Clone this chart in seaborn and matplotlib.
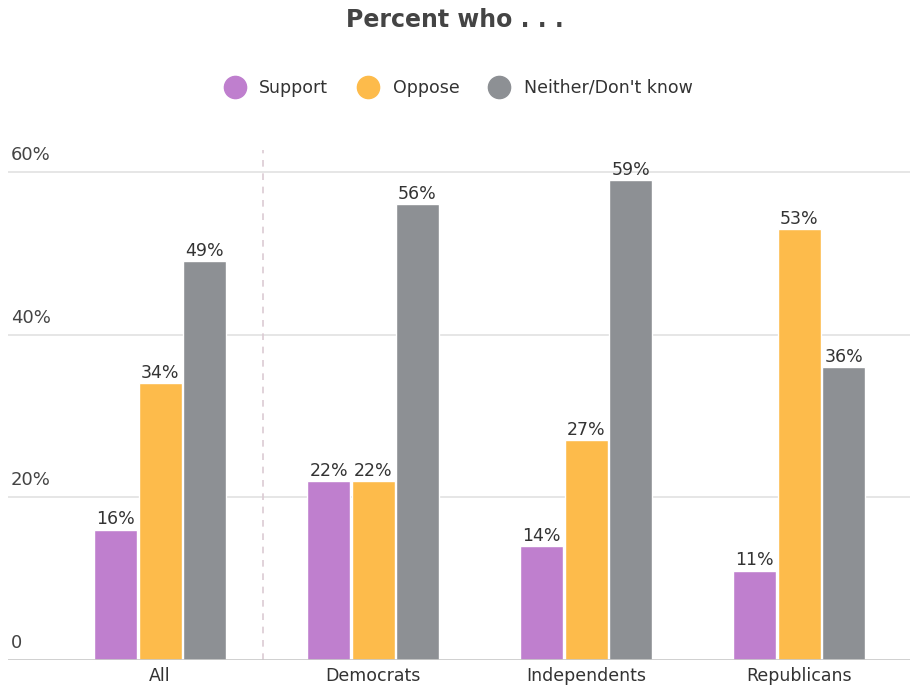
import matplotlib
matplotlib.use("Agg")
import matplotlib.pyplot as plt
import matplotlib.transforms as mtrans
import seaborn as sns
import pandas as pd
from matplotlib.lines import Line2D

groups = ["All", "Democrats", "Independents", "Republicans"]
series = ["Support", "Oppose", "Neither/Don't know"]
support = [16, 22, 14, 11]
oppose = [34, 22, 27, 53]
neither = [49, 56, 59, 36]
colors = ["#BF7FCE", "#FDBB4B", "#8D9094"]
yticks = [0, 20, 40, 60]
ytick_labels = ["0", "20%", "40%", "60%"]

rows = []
for s, vals in zip(series, [support, oppose, neither]):
    for g, v in zip(groups, vals):
        rows.append({"group": g, "series": s, "value": v})
df = pd.DataFrame(rows)

sns.set_theme(style="white")
plt.rcParams['font.family'] = ['DejaVu Sans']

fig = plt.figure(figsize=(9.1, 6.93), dpi=100)
ax = fig.add_axes([8 / 910, 33 / 693, 902 / 910, 510 / 693])

sns.barplot(data=df, x="group", y="value", hue="series", order=groups,
            hue_order=series, palette=colors, width=0.625, gap=0.03,
            saturation=1, ax=ax, legend=False)

ax.set_xlim(-0.714, 3.52)
ax.set_ylim(0, 62.7)

for c in ax.containers:
    ax.bar_label(c, labels=[f"{int(v)}%" for v in c.datavalues], padding=1,
                 fontsize=12.5, color="#333333")

for y in yticks[1:]:
    ax.axhline(y, color="#E2E2E2", lw=1.2, zorder=0)
ax.axhline(0, color="#C8C8C8", lw=1.2, zorder=3)
ax.axvline(0.485, color="#DCCBD3", lw=1.2, ls=(0, (4, 4)), zorder=0)

tr = mtrans.blended_transform_factory(ax.transAxes, ax.transData)
for y, lab in zip(yticks, ytick_labels):
    ax.text(0.003, y + 1.0, lab, transform=tr, ha="left", va="bottom",
            fontsize=13, color="#444444")

ax.set_yticks([])
ax.set_xlabel("")
ax.set_ylabel("")
ax.tick_params(axis="x", length=0, pad=5, labelsize=12.5, labelcolor="#333333")
for sp in ax.spines.values():
    sp.set_visible(False)

fig.text(0.5, 1 - 20 / 693, "Percent who . . .", ha="center", va="center",
         fontsize=17, fontweight="bold", color="#444444")

handles = [Line2D([], [], marker="o", ls="", markersize=16, color=c) for c in colors]
fig.legend(handles, series, loc="center", bbox_to_anchor=(0.5, 1 - 88 / 693),
           ncol=3, frameon=False, fontsize=12.5, handletextpad=0.4,
           columnspacing=1.3, labelcolor="#333333")

fig.savefig("out.png", dpi=100)
